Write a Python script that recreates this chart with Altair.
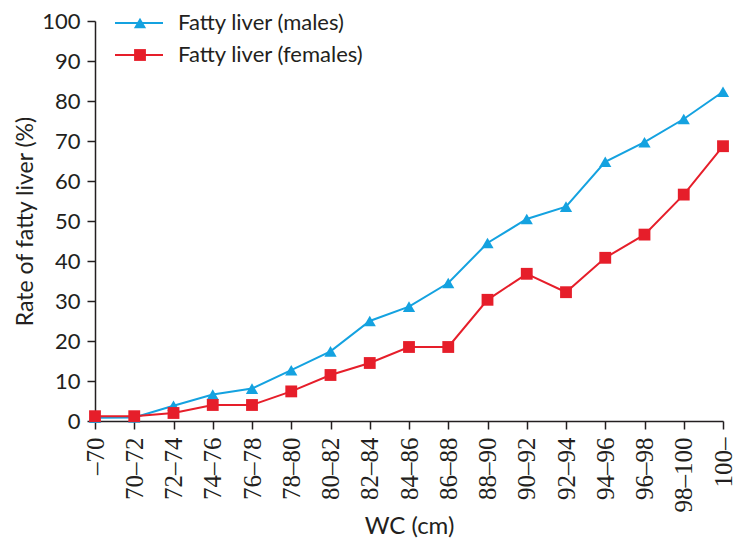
import altair as alt
import pandas as pd

categories = ["–70", "70–72", "72–74", "74–76", "76–78", "78–80", "80–82", "82–84",
              "84–86", "86–88", "88–90", "90–92", "92–94", "94–96", "96–98", "98–100", "100–"]
males = [0.8, 0.9, 3.8, 6.6, 8.1, 12.7, 17.4, 25.0, 28.6, 34.5, 44.5, 50.5, 53.6, 64.8, 69.7, 75.5, 82.3]
females = [1.2, 1.2, 2.0, 4.0, 4.0, 7.4, 11.5, 14.5, 18.5, 18.5, 30.3, 36.8, 32.2, 40.8, 46.6, 56.6, 68.7]
series_names = ["Fatty liver (males)", "Fatty liver (females)"]

BLUE = "#14a2e0"
RED = "#e61e2a"
SANS = "Lato"
INK = "#231f20"

df_m = pd.DataFrame({"wc": categories, "rate": males})
df_f = pd.DataFrame({"wc": categories, "rate": females})

x_enc = alt.X("wc:O", sort=categories, scale=alt.Scale(padding=0),
              axis=alt.Axis(title="WC (cm)", labelAngle=270, labelAlign="right", labelBaseline="middle",
                            labelFont="Liberation Serif", labelFontSize=25, labelColor=INK,
                            labelPadding=8, tickSize=8, tickColor=INK, domainColor=INK,
                            domainWidth=1.5, tickWidth=1.5,
                            titleFont=SANS, titleFontSize=24, titleFontWeight="normal",
                            titleColor=INK, titlePadding=2))
y_enc = alt.Y("rate:Q", scale=alt.Scale(domain=[0, 100], nice=False),
              axis=alt.Axis(title="Rate of fatty liver (%)", values=list(range(0, 101, 10)),
                            grid=False, labelFont=SANS, labelFontSize=22, labelColor=INK,
                            labelPadding=7, tickSize=8, tickColor=INK, domainColor=INK,
                            domainWidth=1.5, tickWidth=1.5,
                            titleFont=SANS, titleFontSize=23, titleFontWeight="normal",
                            titleColor=INK, titlePadding=4))

line_m = alt.Chart(df_m).mark_line(color=BLUE, strokeWidth=2).encode(x=x_enc, y=y_enc)
pts_m = alt.Chart(df_m).mark_point(shape="triangle-up", filled=True, color=BLUE, size=150, opacity=1).encode(x=x_enc, y=y_enc)
line_f = alt.Chart(df_f).mark_line(color=RED, strokeWidth=2).encode(x=x_enc, y=y_enc)
pts_f = alt.Chart(df_f).mark_square(color=RED, size=140, opacity=1).encode(x=x_enc, y=y_enc)

# custom legend
leg_y = [2, 34]
leg_layers = []
for name, color, shape, size, ly in [(series_names[0], BLUE, "triangle-up", 150, leg_y[0]),
                                     (series_names[1], RED, "square", 140, leg_y[1])]:
    ldf = pd.DataFrame({"name": [name]})
    leg_layers.append(alt.Chart(ldf).mark_rule(color=color, strokeWidth=2).encode(
        x=alt.value(20), x2=alt.value(68), y=alt.value(ly)))
    leg_layers.append(alt.Chart(ldf).mark_point(shape=shape, filled=True, color=color, size=size, opacity=1).encode(
        x=alt.value(45), y=alt.value(ly)))
    leg_layers.append(alt.Chart(ldf).mark_text(align="left", baseline="middle", font=SANS, fontSize=22,
                                               color=INK).encode(
        x=alt.value(83), y=alt.value(ly), text="name:N"))

chart = alt.layer(line_m, pts_m, line_f, pts_f, *leg_layers).properties(
    width=628, height=400, autosize="none",
    padding={"left": 87, "top": 13, "right": 13, "bottom": 118}
).configure_view(stroke=None)

chart.save("out.html", embed_options={"renderer": "svg", "actions": False})
